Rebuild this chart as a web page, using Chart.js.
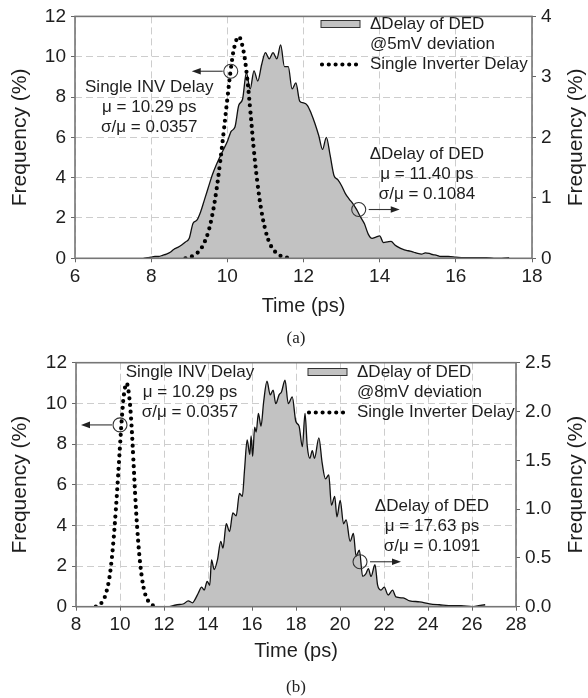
<!DOCTYPE html>
<html>
<head>
<meta charset="utf-8">
<script src="https://cdn.jsdelivr.net/npm/chart.js@4.4.0/dist/chart.umd.min.js"></script>
<style>
  body { margin: 0; background: #fff; width: 588px; height: 698px; position: relative; overflow: hidden; }
  .panel { position: absolute; left: 0; width: 588px; height: 330px; }
  .cap { position: absolute; left: 0; width: 592px; text-align: center; line-height: 20px;
         font: 17px "Liberation Serif", "Times New Roman", serif; color: #222; }
</style>
</head>
<body>
<div class="panel" style="top:0"><canvas id="chartA" width="588" height="330"></canvas></div>
<div class="cap" style="top:328px">(a)</div>
<div class="panel" style="top:345px"><canvas id="chartB" width="588" height="330"></canvas></div>
<div class="cap" style="top:677px">(b)</div>

<script>
// single inverter delay histogram (left axis, same in both panels)
const invTime = [8.9, 9.0, 9.1, 9.2, 9.3, 9.4, 9.5, 9.6, 9.7, 9.8, 9.9, 10.0, 10.1, 10.2, 10.3,
                 10.4, 10.5, 10.6, 10.7, 10.8, 10.9, 11.0, 11.1, 11.2, 11.3, 11.4, 11.5, 11.6, 11.7];
const invFreq = [0.0, 0.05, 0.12, 0.25, 0.45, 0.8, 1.3, 2.1, 3.2, 4.6, 6.2, 7.9, 9.5, 10.6, 11.0,
                 10.5, 9.3, 7.4, 5.3, 3.6, 2.3, 1.4, 0.8, 0.45, 0.25, 0.12, 0.06, 0.02, 0.0];

// ΔDelay of DED @5mV deviation (right axis)
const dedTimeA = [7.8, 7.9, 8.0, 8.1, 8.2, 8.3, 8.4, 8.5, 8.6, 8.7, 8.8, 8.9, 9.0, 9.1, 9.2, 9.3, 9.4,
  9.5, 9.6, 9.7, 9.8, 9.9, 10.0, 10.1, 10.2, 10.3, 10.4, 10.5, 10.6, 10.7, 10.8, 10.9, 11.0, 11.1,
  11.2, 11.3, 11.4, 11.5, 11.6, 11.7, 11.8, 11.9, 12.0, 12.1, 12.2, 12.3, 12.4, 12.5, 12.6, 12.7,
  12.8, 12.9, 13.0, 13.1, 13.2, 13.3, 13.4, 13.5, 13.6, 13.7, 13.8, 13.9, 14.0, 14.1, 14.2, 14.3,
  14.4, 14.5, 14.6, 14.7, 14.8, 14.9, 15.0, 15.1, 15.2, 15.3, 15.4, 15.5, 15.6, 15.8, 16.0, 16.2,
  16.4, 16.6, 16.8, 17.0, 17.2, 17.4];
const dedFreqA = [0, 0.01, 0.02, 0.03, 0.03, 0.05, 0.07, 0.1, 0.15, 0.18, 0.22, 0.27, 0.33, 0.58,
  0.63, 0.77, 0.97, 1.17, 1.37, 1.53, 1.67, 1.8, 1.93, 2.1, 2.17, 2.53, 2.63, 3.07, 2.8, 3.1, 2.93,
  3.2, 3.4, 3.3, 3.4, 3.3, 3.53, 3.17, 3.17, 2.8, 2.9, 2.6, 2.57, 2.53, 2.4, 2.23, 2.03, 1.8, 2.0,
  1.7, 1.37, 1.3, 1.2, 1.07, 0.98, 0.9, 0.8, 0.68, 0.57, 0.4, 0.33, 0.35, 0.37, 0.26, 0.27, 0.28,
  0.22, 0.18, 0.15, 0.13, 0.12, 0.1, 0.08, 0.07, 0.09, 0.08, 0.06, 0.05, 0.03, 0.03, 0.02, 0.01,
  0.01, 0.01, 0.01, 0, 0, 0.01];

// ΔDelay of DED @8mV deviation (right axis)
const dedTimeB = [12.2, 12.6, 12.9, 13.1, 13.3, 13.4, 13.56, 13.71, 13.83, 13.96, 14.08, 14.16,
  14.28, 14.43, 14.58, 14.68, 14.83, 14.98, 15.13, 15.28, 15.43, 15.56, 15.66, 15.78, 15.9, 15.96,
  16.03, 16.12, 16.19, 16.29, 16.41, 16.53, 16.68, 16.83, 16.96, 17.08, 17.23, 17.34, 17.5, 17.65,
  17.83, 17.99, 18.14, 18.29, 18.41, 18.51, 18.63, 18.74, 18.84, 19.04, 19.19, 19.34, 19.49, 19.61,
  19.76, 19.86, 20.01, 20.16, 20.28, 20.46, 20.61, 20.73, 20.88, 21.03, 21.18, 21.29, 21.41, 21.59,
  21.71, 21.86, 22.01, 22.19, 22.39, 22.54, 22.87, 23.17, 23.62, 24.07, 24.52, 25.12, 25.5, 26.0,
  26.3, 26.6];
const dedFreqB = [0, 0.02, 0.03, 0.06, 0.04, 0.07, 0.14, 0.2, 0.17, 0.26, 0.22, 0.48, 0.38, 0.48,
  0.67, 0.6, 0.85, 0.77, 0.96, 0.93, 1.16, 1.13, 1.4, 1.71, 1.56, 1.75, 1.54, 1.84, 1.79, 1.98,
  1.85, 2.1, 2.31, 2.17, 2.22, 2.08, 2.17, 2.2, 2.32, 2.08, 2.15, 1.9, 1.85, 1.64, 1.98, 1.65, 1.52,
  1.6, 1.52, 1.73, 1.47, 1.31, 1.35, 1.04, 1.13, 0.92, 1.09, 0.85, 0.89, 0.67, 0.75, 0.52, 0.58,
  0.31, 0.34, 0.39, 0.31, 0.43, 0.22, 0.17, 0.2, 0.12, 0.17, 0.1, 0.09, 0.06, 0.05, 0.03, 0.02,
  0.01, 0.01, 0.0, 0.01, 0.02];

// axis ranges [min, max, step]
const timeAxisA = [6, 18, 2];
const timeAxisB = [8, 28, 2];
const leftAxis = [0, 12, 2];
const rightAxisA = [0, 4, 1];
const rightAxisB = [0, 2.5, 0.5];

const legendLinesA = ['\u0394Delay of DED', '@5mV deviation', 'Single Inverter Delay'];
const legendLinesB = ['\u0394Delay of DED', '@8mV deviation', 'Single Inverter Delay'];
const invNote = ['Single INV Delay', '\u03bc = 10.29 ps', '\u03c3/\u03bc = 0.0357'];
const dedNoteA = ['\u0394Delay of DED', '\u03bc = 11.40 ps', '\u03c3/\u03bc = 0.1084'];
const dedNoteB = ['\u0394Delay of DED', '\u03bc = 17.63 ps', '\u03c3/\u03bc = 0.1091'];

const ink = '#1e1e1e';
const sans = '"Liberation Sans", Arial, Helvetica, sans-serif';

function pts(xs, ys) {
  return xs.map((x, i) => ({ x: x, y: ys[i] }));
}

function arrow(ctx, x0, x1, y) {
  const d = Math.sign(x1 - x0);
  ctx.beginPath(); ctx.moveTo(x0, y); ctx.lineTo(x1 - d * 6, y); ctx.stroke();
  ctx.beginPath(); ctx.moveTo(x1, y); ctx.lineTo(x1 - d * 9, y - 3.3); ctx.lineTo(x1 - d * 9, y + 3.3);
  ctx.closePath(); ctx.fill();
}

// frame, right title (reads bottom to top), legend and the notes with circles and arrows
const decor = {
  id: 'decor',
  afterDraw(chart, args, o) {
    const { ctx, chartArea: a, scales } = chart;
    const sx = scales.x, sy = scales.y;
    ctx.save();
    ctx.strokeStyle = '#767676'; ctx.lineWidth = 1.6;
    ctx.strokeRect(a.left, a.top, a.width, a.height);

    ctx.save();
    ctx.fillStyle = ink; ctx.font = '21px ' + sans;
    ctx.textAlign = 'center'; ctx.textBaseline = 'middle';
    ctx.translate(chart.width - 11.5, (a.top + a.bottom) / 2);
    ctx.rotate(-Math.PI / 2);
    ctx.fillText('Frequency (%)', 0, 0);
    ctx.restore();

    // legend
    const L = o.legend;
    ctx.fillStyle = '#c2c2c2'; ctx.strokeStyle = '#333'; ctx.lineWidth = 1;
    ctx.fillRect(L.x, L.y, 39, 7); ctx.strokeRect(L.x, L.y, 39, 7);
    ctx.fillStyle = ink; ctx.font = '17px ' + sans;
    ctx.textAlign = 'left'; ctx.textBaseline = 'middle';
    L.lines.forEach((t, i) => ctx.fillText(t, L.tx, L.y + 4 + i * 20));
    ctx.save();
    ctx.strokeStyle = '#000'; ctx.lineWidth = 4.2; ctx.lineCap = 'round'; ctx.setLineDash([0, 6.8]);
    ctx.beginPath(); ctx.moveTo(L.x + 1, L.y + 44); ctx.lineTo(L.x + 40, L.y + 44); ctx.stroke();
    ctx.restore();

    // notes
    ctx.textAlign = 'center';
    o.notes.forEach(n => {
      const px = sx.getPixelForValue(n.x), py = sy.getPixelForValue(n.y);
      n.lines.forEach((t, i) => ctx.fillText(t, px, py + i * 20));
    });
    ctx.strokeStyle = '#333'; ctx.fillStyle = '#222'; ctx.lineWidth = 1.1;
    o.marks.forEach(m => {
      const px = sx.getPixelForValue(m.x), py = sy.getPixelForValue(m.y);
      ctx.beginPath(); ctx.arc(px, py, 7, 0, Math.PI * 2); ctx.stroke();
      if (m.dir < 0) arrow(ctx, px - 8, px - 39, py);
      else arrow(ctx, px + 10, px + 41, py);
    });
    ctx.restore();
  }
};

function makeChart(id, dedTime, dedFreq, tAxis, rAxis, box, extra) {
  const tickFont = { family: sans, size: 19 };
  return new Chart(document.getElementById(id), {
    type: 'line',
    data: {
      datasets: [{
        label: 'Single Inverter Delay',
        data: pts(invTime, invFreq),
        yAxisID: 'y',
        borderColor: '#000', borderWidth: 4.2, borderCapStyle: 'round',
        borderDash: [0, 6.8], pointRadius: 0, fill: false, tension: 0.4
      }, {
        label: 'DED',
        data: pts(dedTime, dedFreq),
        yAxisID: 'y1',
        borderColor: '#111', borderWidth: 1.3, backgroundColor: '#c2c2c2',
        pointRadius: 0, fill: 'origin', cubicInterpolationMode: 'monotone'
      }]
    },
    options: {
      responsive: false,
      animation: false,
      layout: { padding: { top: box.top, right: 0, bottom: 0, left: 0 } },
      plugins: { legend: { display: false }, tooltip: { enabled: false }, decor: extra },
      scales: {
        x: {
          type: 'linear', min: tAxis[0], max: tAxis[1],
          afterFit: s => { s.height = box.xh; },
          ticks: { stepSize: tAxis[2], color: ink, font: tickFont, padding: 3, maxRotation: 0 },
          grid: { color: '#cdcdcd', tickColor: '#666', tickLength: 4 },
          border: { display: false, dash: [7, 4] },
          title: { display: true, text: 'Time (ps)', color: ink, font: { family: sans, size: 20 },
                   padding: { top: 2, bottom: box.tb } }
        },
        y: {
          position: 'left', min: leftAxis[0], max: leftAxis[1],
          afterFit: s => { s.width = box.lw; },
          ticks: { stepSize: leftAxis[2], color: ink, font: tickFont, padding: 5 },
          grid: { color: '#cdcdcd', tickColor: '#666', tickLength: 4 },
          border: { display: false, dash: [7, 4] },
          title: { display: true, text: 'Frequency (%)', color: ink, font: { family: sans, size: 21 },
                   padding: { top: 8, bottom: 4 } }
        },
        y1: {
          position: 'right', min: rAxis[0], max: rAxis[1],
          afterFit: s => { s.width = box.rw; },
          ticks: { stepSize: rAxis[2], color: ink, font: tickFont, padding: 5,
                   callback: v => rAxis[2] < 1 ? v.toFixed(1) : String(v) },
          grid: { drawOnChartArea: false, tickColor: '#666', tickLength: 4 },
          border: { display: false }
        }
      }
    },
    plugins: [decor]
  });
}

makeChart('chartA', dedTimeA, dedFreqA, timeAxisA, rightAxisA,
  { top: 15, xh: 71.7, tb: 12, lw: 75, rw: 56 },
  {
    legend: { x: 321, y: 20.5, tx: 370, lines: legendLinesA },
    notes: [{ x: 7.95, y: 8.46, lines: invNote }, { x: 15.24, y: 5.18, lines: dedNoteA }],
    marks: [{ x: 10.09, y: 9.28, dir: -1 }, { x: 13.45, y: 2.42, dir: 1 }]
  });

makeChart('chartB', dedTimeB, dedFreqB, timeAxisB, rightAxisB,
  { top: 17.7, xh: 68.3, tb: 11.3, lw: 76, rw: 72 },
  {
    legend: { x: 308, y: 23.5, tx: 357, lines: legendLinesB },
    notes: [{ x: 13.18, y: 11.51, lines: invNote }, { x: 24.18, y: 4.92, lines: dedNoteB }],
    marks: [{ x: 10.0, y: 8.94, dir: -1 }, { x: 20.91, y: 2.21, dir: 1 }]
  });
</script>
</body>
</html>
